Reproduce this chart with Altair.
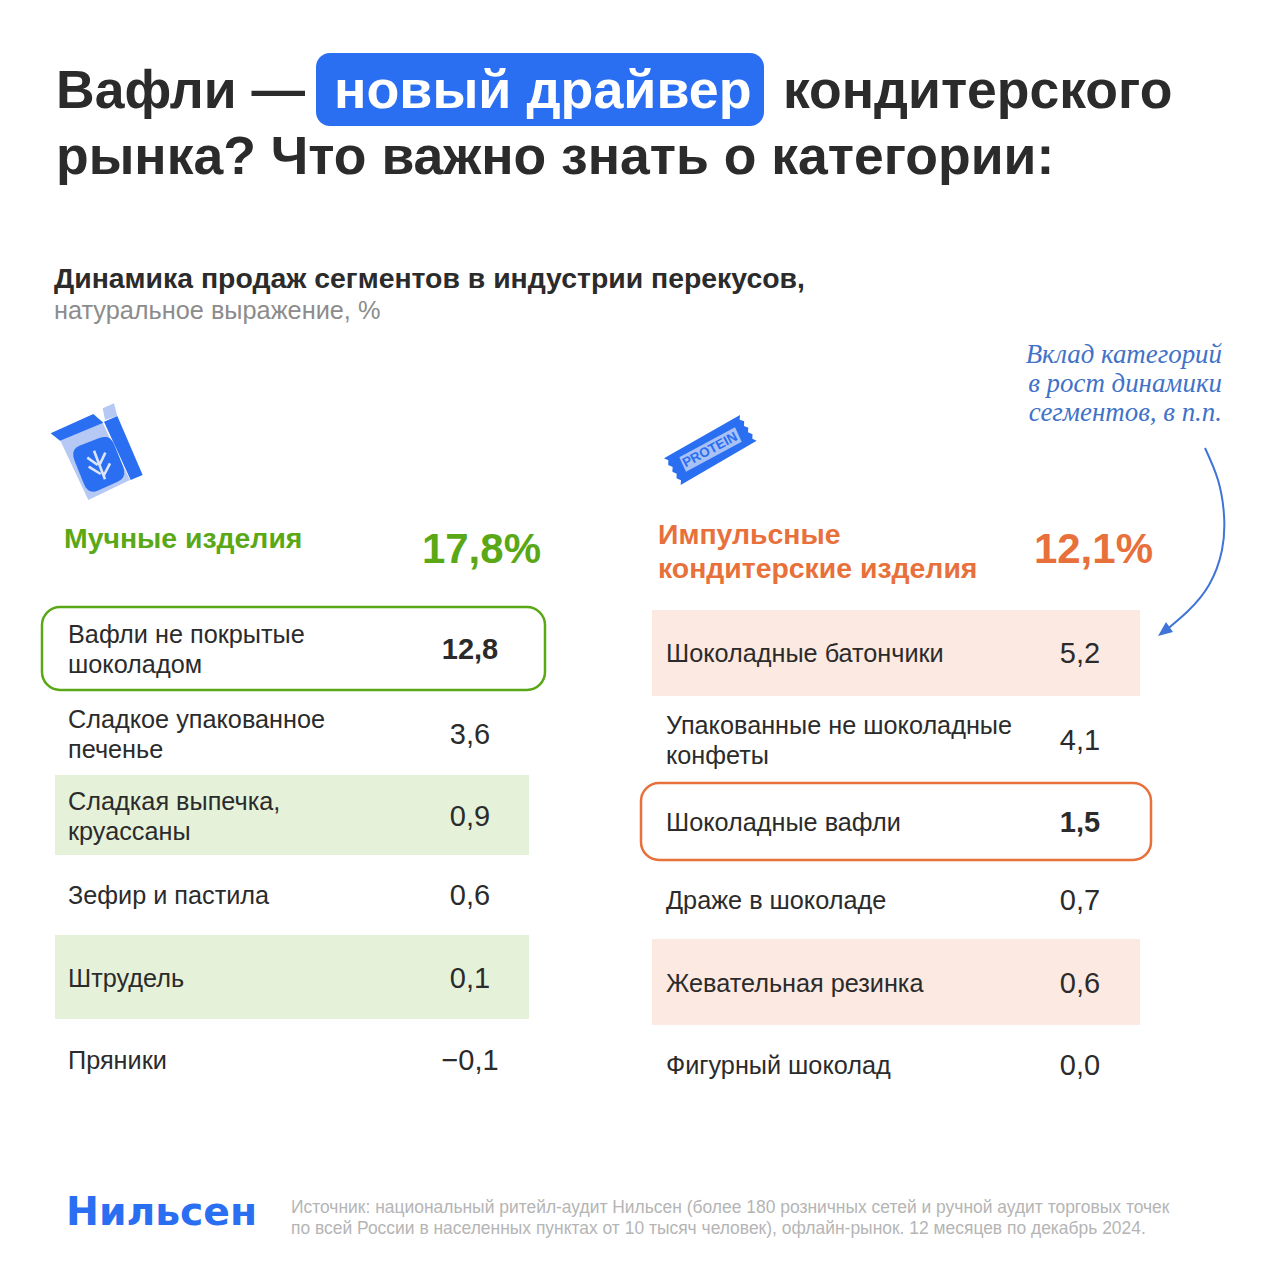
"""Waffle category infographic, drawn on one pixel-sized layered chart."""

import altair as alt
import pandas as pd

# data
left_labels = [
    "Вафли не покрытые\nшоколадом",
    "Сладкое упакованное\nпеченье",
    "Сладкая выпечка,\nкруассаны",
    "Зефир и пастила",
    "Штрудель",
    "Пряники",
]
left_values = [12.8, 3.6, 0.9, 0.6, 0.1, -0.1]
right_labels = [
    "Шоколадные батончики",
    "Упакованные не шоколадные\nконфеты",
    "Шоколадные вафли",
    "Драже в шоколаде",
    "Жевательная резинка",
    "Фигурный шоколад",
]
right_values = [5.2, 4.1, 1.5, 0.7, 0.6, 0.0]
left_total = 17.8
right_total = 12.1

# layout, in page pixels
left_mid = [649, 734, 816, 895, 978, 1060]
right_mid = [653, 740, 822, 900, 983, 1065]
left_bands = [(55, 529, 775, 855), (55, 529, 935, 1019)]
right_bands = [(652, 1140, 610, 696), (652, 1140, 939, 1025)]
LINE = 30

BLUE = "#2a6ef2"
GREEN = "#5aa815"
ORANGE = "#e8703a"
INK = "#2b2b2b"
SANS = "Liberation Sans"

x_scale = alt.Scale(domain=[8, 1272], nice=False, zero=False)
y_scale = alt.Scale(domain=[1272, 8], nice=False, zero=False)


def fmt(value):
    return f"{value:.1f}".replace(".", ",").replace("-", "\u2212")


def X(field="x"):
    return alt.X(field, type="quantitative", scale=x_scale, axis=None)


def Y(field="y"):
    return alt.Y(field, type="quantitative", scale=y_scale, axis=None)


def label(rows, **mark):
    """Text layer from (x, y, text) rows."""
    df = pd.DataFrame(rows, columns=["x", "y", "text"])
    mark.setdefault("font", SANS)
    mark.setdefault("align", "left")
    mark.setdefault("baseline", "alphabetic")
    return alt.Chart(df).mark_text(**mark).encode(x=X(), y=Y(), text="text:N")


def box(rows, **mark):
    """Rectangles from (x, x2, y, y2) rows."""
    df = pd.DataFrame(rows, columns=["x", "x2", "y", "y2"])
    return (
        alt.Chart(df)
        .mark_rect(**mark)
        .encode(x=X(), x2="x2:Q", y=Y(), y2="y2:Q")
    )


def shape(polys, color, cx, cy, r=60, closed=True, stroke_width=None):
    """Custom symbol from polygons given in page pixels."""
    parts = []
    for poly in polys:
        pts = [f"{(px - cx) / r:.4f},{(py - cy) / r:.4f}" for px, py in poly]
        parts.append("M" + "L".join(pts) + ("Z" if closed else ""))
    kwargs = dict(shape="".join(parts), size=(2 * r) ** 2, opacity=1)
    if closed:
        kwargs.update(filled=True, fill=color, strokeWidth=0)
    else:
        kwargs.update(filled=False, stroke=color, strokeWidth=stroke_width)
    df = pd.DataFrame({"x": [cx], "y": [cy]})
    return alt.Chart(df).mark_point(**kwargs).encode(x=X(), y=Y())


def zoomed(points, ox, oy):
    return [(ox + px / 3, oy + py / 3) for px, py in points]


def rounded(points, t=0.25, steps=5):
    """Round a polygon's corners with small quadratic curves."""
    out = []
    n = len(points)
    for i, (bx, by) in enumerate(points):
        ax, ay = points[i - 1]
        cx, cy = points[(i + 1) % n]
        p0 = (bx + (ax - bx) * t, by + (ay - by) * t)
        p2 = (bx + (cx - bx) * t, by + (cy - by) * t)
        for s in range(steps + 1):
            u = s / steps
            out.append(
                (
                    (1 - u) ** 2 * p0[0] + 2 * u * (1 - u) * bx + u**2 * p2[0],
                    (1 - u) ** 2 * p0[1] + 2 * u * (1 - u) * by + u**2 * p2[1],
                )
            )
    return out


# title block
pill = box([(316, 764, 53, 126)], fill=BLUE, cornerRadius=14)
title = label(
    [
        (56, 108, "Вафли —"),
        (783, 108, "кондитерского"),
        (56, 174, "рынка? Что важно знать о категории:"),
    ],
    fontSize=53.5,
    fontWeight="bold",
    color=INK,
)
title_pill = label(
    [(334, 108, "новый драйвер")], fontSize=53.8, fontWeight="bold", color="#ffffff"
)
subtitle = label(
    [(54, 288, "Динамика продаж сегментов в индустрии перекусов,")],
    fontSize=28.4,
    fontWeight="bold",
    color=INK,
)
subtitle2 = label(
    [(54, 319, "натуральное выражение, %")], fontSize=25.3, color="#8c8c8c"
)

# side note and arrow
note = label(
    [
        (1222, 363, "Вклад категорий"),
        (1222, 392, "в рост динамики"),
        (1222, 421, "сегментов, в п.п."),
    ],
    font="Liberation Serif",
    fontStyle="italic",
    fontSize=26.9,
    align="right",
    color="#3f72c8",
)
arrow_df = pd.DataFrame(
    {
        "x": [1205, 1218, 1224, 1222, 1209, 1188, 1165],
        "y": [448, 480, 515, 550, 585, 611, 631],
        "order": [0, 1, 2, 3, 4, 5, 6],
    }
)
arrow = (
    alt.Chart(arrow_df)
    .mark_line(color="#3f74d8", strokeWidth=2, interpolate="natural")
    .encode(x=X(), y=Y(), order="order:Q")
)
arrow_head = shape([[(1158, 636), (1166, 622), (1173, 632)]], "#3f74d8", 1165, 630, r=20)

# icons
LIGHT = "#b6c9f5"
bag_body = shape(
    [zoomed([(90, 150), (215, 92), (300, 270), (175, 330)], 30, 390)], LIGHT, 96, 450
)
bag_flap = shape(
    [
        zoomed([(62, 130), (190, 72), (220, 98), (90, 152)], 30, 390),
        zoomed([(222, 95), (262, 78), (338, 255), (302, 270)], 30, 390),
    ],
    BLUE,
    96,
    450,
)
bag_tab = shape(
    [zoomed([(218, 55), (252, 40), (262, 78), (225, 90)], 30, 390)], LIGHT, 96, 450
)
bag_label = shape(
    [zoomed(rounded([(120, 178), (240, 132), (292, 262), (175, 315)]), 30, 390)],
    BLUE,
    96,
    450,
)
wheat = shape(
    [
        zoomed([(192, 182), (225, 268)], 30, 390),
        zoomed([(172, 203), (203, 225)], 30, 390),
        zoomed([(176, 230), (212, 252)], 30, 390),
        zoomed([(226, 188), (210, 222)], 30, 390),
        zoomed([(240, 220), (222, 255)], 30, 390),
    ],
    "#dce6fb",
    96,
    450,
    closed=False,
    stroke_width=2.6,
)
bar_body = shape(
    [
        zoomed(
            [
                (72, 175), (300, 45),
                (299, 59), (312.5, 64), (312, 78), (325, 83.5),
                (324, 97), (337.5, 103), (337, 116), (350, 122),
                (122, 255),
                (123, 241), (109.5, 235), (110, 221), (97, 215),
                (98, 201), (84.5, 195), (85, 181),
            ],
            640,
            400,
        )
    ],
    BLUE,
    710,
    450,
)
bar_label = shape(
    [zoomed([(118, 172), (285, 82), (305, 125), (138, 215)], 640, 400)],
    "#a9c2f6",
    710,
    450,
)
bar_text = label(
    [(710, 450, "PROTEIN")],
    fontSize=13.5,
    fontWeight="bold",
    align="center",
    baseline="middle",
    angle=332,
    color=BLUE,
)


def names(x, mids, labels):
    """Row names: the block of one or two lines is centred on the row."""
    rows = [(x, y - LINE / 2 * t.count("\n"), t) for y, t in zip(mids, labels)]
    return label(
        rows,
        fontSize=25.25,
        baseline="middle",
        lineBreak="\n",
        lineHeight=LINE,
        dy=0.5,
        color=INK,
    )


def nums(x, mids, values, **mark):
    rows = [(x, y, fmt(v)) for y, v in zip(mids, values)]
    return label(
        rows, fontSize=29, align="center", baseline="middle", dy=0.5, color=INK, **mark
    )


# left table
left_head = label([(64, 548, "Мучные изделия")], fontSize=28.4, fontWeight="bold", color=GREEN)
left_big = label(
    [(541, 563, fmt(left_total) + "%")],
    fontSize=42,
    fontWeight="bold",
    align="right",
    color=GREEN,
)
left_fill = box(left_bands, fill="#e5f1d9")
left_frame = box(
    [(42, 545, 607, 690)],
    fillOpacity=0,
    stroke=GREEN,
    strokeWidth=2.5,
    cornerRadius=18,
)
left_names = names(68, left_mid, left_labels)
left_nums = nums(470, left_mid[1:], left_values[1:])
left_top = nums(470, left_mid[:1], left_values[:1], fontWeight="bold")

# right table
right_head = label(
    [(658, 544, "Импульсные"), (658, 578, "кондитерские изделия")],
    fontSize=28.4,
    fontWeight="bold",
    color=ORANGE,
)
right_big = label(
    [(1153, 563, fmt(right_total) + "%")],
    fontSize=42,
    fontWeight="bold",
    align="right",
    color=ORANGE,
)
right_fill = box(right_bands, fill="#fce9e1")
right_frame = box(
    [(641, 1151, 783, 860)],
    fillOpacity=0,
    stroke=ORANGE,
    strokeWidth=2.5,
    cornerRadius=18,
)
right_names = names(666, right_mid, right_labels)
right_nums = nums(
    1080, right_mid[:2] + right_mid[3:], right_values[:2] + right_values[3:]
)
right_top = nums(1080, right_mid[2:3], right_values[2:3], fontWeight="bold")

# footer
logo = label(
    [(66, 1225, "Нильсен")],
    font="DejaVu Sans",
    fontSize=39.3,
    fontWeight="bold",
    color=BLUE,
)
source = label(
    [
        (291, 1213, "Источник: национальный ритейл-аудит Нильсен (более 180 розничных сетей и ручной аудит торговых точек"),
        (291, 1234, "по всей России в населенных пунктах от 10 тысяч человек), офлайн-рынок. 12 месяцев по декабрь 2024."),
    ],
    fontSize=17.45,
    color="#b5b5b5",
)

chart = (
    alt.layer(
        pill, title, title_pill, subtitle, subtitle2, note, arrow, arrow_head,
        bag_body, bag_flap, bag_tab, bag_label, wheat, bar_body, bar_label, bar_text,
        left_fill, left_frame, left_head, left_big, left_names, left_nums, left_top,
        right_fill, right_frame, right_head, right_big, right_names, right_nums, right_top,
        logo, source,
    )
    .properties(
        width=1264,
        height=1264,
        padding=0,
        background="#ffffff",
        autosize=alt.AutoSizeParams(type="none"),
    )
    .configure_view(strokeWidth=0)
)

chart.save("out.html", embed_options={"renderer": "svg", "actions": False})
